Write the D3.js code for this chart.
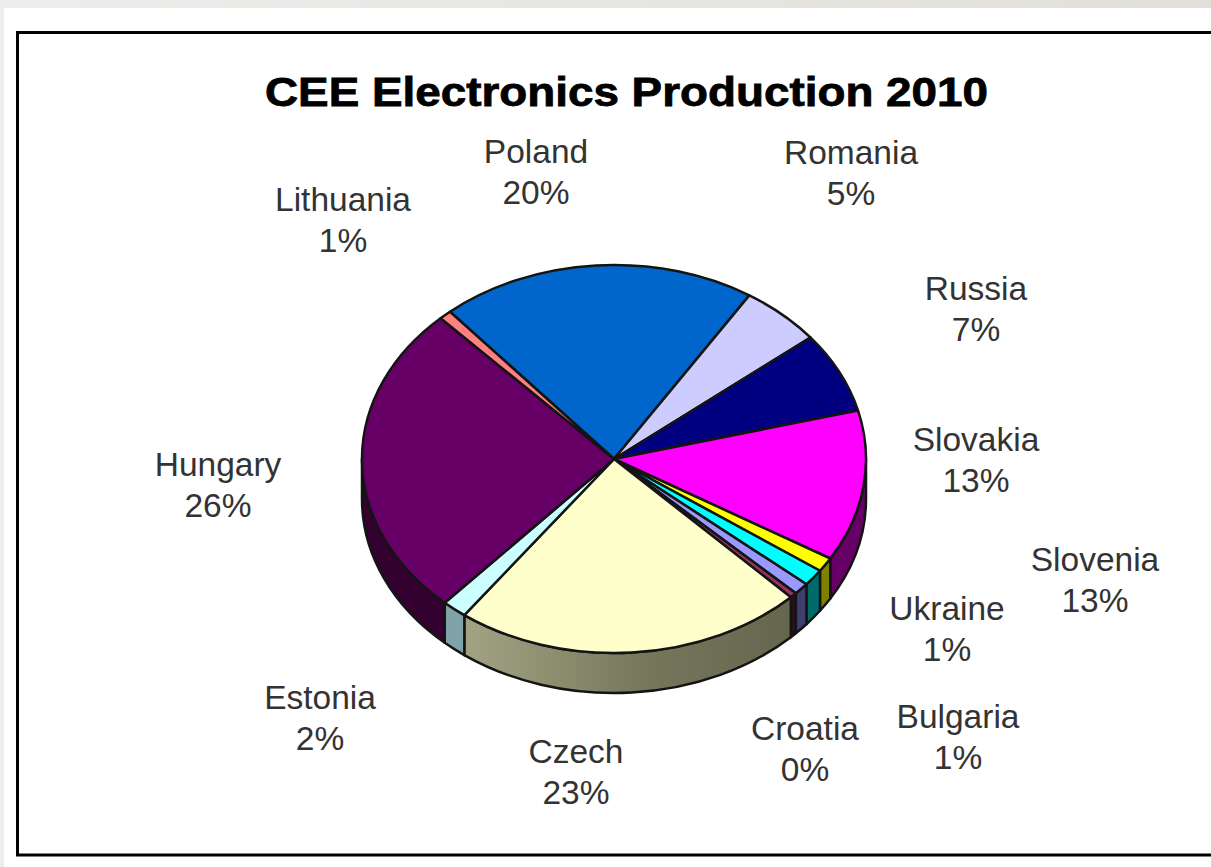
<!DOCTYPE html>
<html>
<head>
<meta charset="utf-8">
<style>
  html, body { margin: 0; padding: 0; background: #ffffff; }
  svg { display: block; }
  text { font-family: "Liberation Sans", Arial, sans-serif; }
</style>
<script src="https://cdn.jsdelivr.net/npm/d3@7"></script>
</head>
<body>
<svg id="chart" width="1211" height="867"></svg>
<script>
const titleText = "CEE Electronics Production 2010";
const countries = ["Poland", "Romania", "Russia", "Slovakia", "Slovenia", "Ukraine",
                   "Bulgaria", "Croatia", "Czech", "Estonia", "Hungary", "Lithuania"];
// Slice sizes, in percent, carrying more precision than the printed labels.
// Slovenia's printed share reads 13%, while its slice is about 1.3% of the pie.
const shares = [20.3, 5.2, 6.75, 12.6, 1.2, 1.4, 1.0, 0.45, 22.5, 1.6, 26.2, 0.8];
const printedShares = ["20%", "5%", "7%", "13%", "13%", "1%", "1%", "0%", "23%", "2%", "26%", "1%"];
const topColors = ["#0066cc", "#ccccff", "#000080", "#ff00ff", "#ffff00", "#00ffff",
                   "#9999ff", "#993366", "#ffffcc", "#ccffff", "#660066", "#ff8080"];
const sideColors = ["#003366", "#66667f", "#000040", "#660066", "#808000", "#006b6b",
                    "#3f3f6f", "#2a1020", "#66664f", "#7fa3a8", "#33002f", "#804040"];
const labelCenters = [[536, 173], [851, 174], [976, 310], [976, 461], [1095, 581], [947, 630],
                      [958, 738], [805, 750], [576, 773], [320, 719], [218, 486], [343, 221]];

const width = 1211, height = 867;
const cx = 614, cy = 459, rx = 252, ry = 194, depth = 40;
const startDeg = -40.6;

const svg = d3.select("#chart");
const defs = svg.append("defs");

// Page frame: grey strip along the top and left, black rule round the chart area.
const strip = defs.append("linearGradient").attr("id", "topStrip");
strip.append("stop").attr("offset", "0").attr("stop-color", "#eeedeb");
strip.append("stop").attr("offset", "1").attr("stop-color", "#e2dfda");
svg.append("rect").attr("width", width).attr("height", 8).attr("fill", "url(#topStrip)");
svg.append("rect").attr("width", 4).attr("height", height).attr("fill", "#eeedeb");
svg.append("path")
  .attr("d", "M" + width + ",32.5H17.5V855H" + width)
  .attr("fill", "none").attr("stroke", "#000").attr("stroke-width", 3);

svg.append("text")
  .attr("x", 265).attr("y", 106)
  .attr("font-size", 41).attr("font-weight", "bold")
  .attr("textLength", 723).attr("lengthAdjust", "spacingAndGlyphs")
  .attr("stroke", "#000").attr("stroke-width", 0.8)
  .attr("fill", "#000")
  .text(titleText);

const pie = d3.pie().sort(null).value(d => d.share)
  .startAngle(startDeg * Math.PI / 180)
  .endAngle((startDeg + 360) * Math.PI / 180);

const slices = pie(countries.map((name, i) => ({
  name, share: shares[i], printed: printedShares[i],
  top: topColors[i], side: sideColors[i], label: labelCenters[i]
})));

// Rim point of the tilted disc; the angle runs clockwise from twelve o'clock.
const rim = (a, dy = 0) => [cx + rx * Math.sin(a), cy - ry * Math.cos(a) + dy];

// Only the front half of the disc shows a wall.
const lo = Math.PI / 2, hi = 3 * Math.PI / 2;
function wallPath(d) {
  let candidates = [[d.startAngle, d.endAngle], [d.startAngle + 2 * Math.PI, d.endAngle + 2 * Math.PI]];
  let parts = "";
  candidates.forEach(([s, e]) => {
    const a0 = Math.max(s, lo), a1 = Math.min(e, hi);
    if (a1 <= a0) return;
    const large = (a1 - a0) > Math.PI ? 1 : 0;
    const [x0, y0] = rim(a0), [x1, y1] = rim(a1);
    const [x2, y2] = rim(a1, depth), [x3, y3] = rim(a0, depth);
    parts += `M${x0},${y0}A${rx},${ry} 0 ${large} 1 ${x1},${y1}` +
             `L${x2},${y2}A${rx},${ry} 0 ${large} 0 ${x3},${y3}Z`;
  });
  return parts;
}

// Czech wall fades from light on the left to dark on the right.
const wallFade = defs.append("linearGradient").attr("id", "czechWall")
  .attr("gradientUnits", "userSpaceOnUse")
  .attr("x1", 465).attr("y1", 0).attr("x2", 790).attr("y2", 0);
wallFade.append("stop").attr("offset", "0").attr("stop-color", "#a3a384");
wallFade.append("stop").attr("offset", "0.55").attr("stop-color", "#77775c");
wallFade.append("stop").attr("offset", "1").attr("stop-color", "#66664f");

const outline = "#141414";

svg.append("g").selectAll("path.wall")
  .data(slices)
  .join("path")
  .attr("class", "wall")
  .attr("d", wallPath)
  .attr("fill", d => d.data.name === "Czech" ? "url(#czechWall)" : d.data.side)
  .attr("stroke", outline).attr("stroke-width", 2.5).attr("stroke-linejoin", "round");

const arc = d3.arc().innerRadius(0).outerRadius(rx);
svg.append("g")
  .attr("transform", `translate(${cx},${cy}) scale(1,${ry / rx})`)
  .selectAll("path.top")
  .data(slices)
  .join("path")
  .attr("class", "top")
  .attr("d", arc)
  .attr("fill", d => d.data.top)
  .attr("stroke", outline).attr("stroke-width", 2.5)
  .attr("stroke-linejoin", "round")
  .attr("vector-effect", "non-scaling-stroke");

// Two-line labels: country name above its printed share.
const labels = svg.append("g").selectAll("g.label")
  .data(slices)
  .join("g")
  .attr("class", "label")
  .attr("transform", d => `translate(${d.data.label[0]},${d.data.label[1]})`)
  .attr("text-anchor", "middle")
  .attr("font-size", 33.5)
  .attr("fill", "#333");
labels.append("text").attr("y", -10).text(d => d.data.name);
labels.append("text").attr("y", 31).text(d => d.data.printed);
</script>
</body>
</html>
